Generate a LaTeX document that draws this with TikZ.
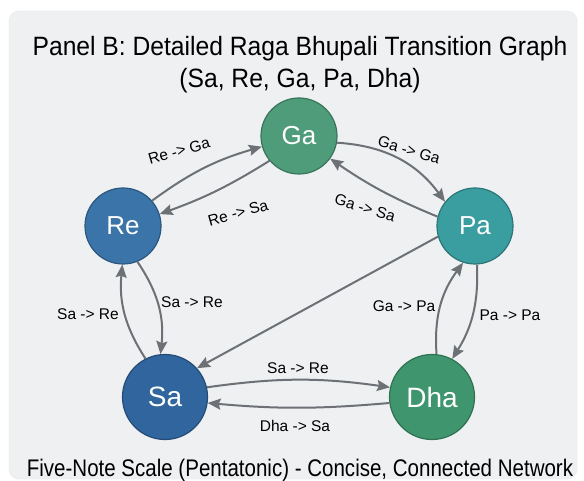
\documentclass[tikz,border=0pt]{standalone}
\usepackage{fontspec}
\setmainfont{Liberation Sans}
\newfontfamily\titlefont[FakeStretch=0.93]{Liberation Sans}
\newfontfamily\captionfont[FakeStretch=0.855]{Liberation Sans}
\newfontfamily\labelfont{Liberation Sans}
\usetikzlibrary{arrows.meta}

\definecolor{panelbg}{HTML}{EEF0F2}
\definecolor{panelrim}{HTML}{E4E7EA}
\definecolor{edgegray}{HTML}{6D7175}
\definecolor{reblue}{HTML}{3A74A8}
\definecolor{sablue}{HTML}{30659E}
\definecolor{gagreen}{HTML}{4E9C7A}
\definecolor{pateal}{HTML}{3A9DA0}
\definecolor{dhagreen}{HTML}{3F966E}

\tikzset{
  note/.style={circle, draw=#1!75!black, fill=#1, line width=1.2pt,
    text=white, inner sep=0pt, font=\fontsize{26}{30}\selectfont},
  smallnote/.style={note=#1, minimum size=76pt},
  bignote/.style={note=#1, minimum size=85pt, font=\fontsize{28}{32}\selectfont},
  trans/.style={draw=edgegray, line width=2pt,
    -{Stealth[length=13pt,width=11pt,inset=2pt]}},
  edgelabel/.style={font=\labelfont\fontsize{15.5}{18}\selectfont, text=black, inner sep=1pt},
}

\begin{document}
\begin{tikzpicture}[x=1pt, y=-1pt]
  \useasboundingbox (0,0) rectangle (584,481);
  \fill[white] (0,0) rectangle (584,481);
  \path[fill=panelbg, draw=panelrim, rounded corners=10pt] (9,11) rectangle (577,479);

  % heading (anchored on the baseline of its second line)
  \node[font=\titlefont\fontsize{26.5}{32}\selectfont, align=center, anchor=base]
    (heading) at (300,87.5) {Panel B: Detailed Raga Bhupali Transition Graph\\(Sa, Re, Ga, Pa, Dha)};

  % the five notes
  \node[smallnote=gagreen] (ga) at (299,136) {Ga};
  \node[smallnote=reblue]  (re) at (123,226) {Re};
  \node[smallnote=pateal]  (pa) at (475,226) {Pa};
  \node[bignote=sablue]    (sa) at (165,397) {Sa};
  \node[bignote=dhagreen]  (dha) at (432,397) {Dha};

  % transitions
  \draw[trans] (re.41)   to[bend left=10] (ga.196);
  \draw[trans] (ga.220)  to[bend left=6]  (re.18);
  \draw[trans] (ga.350)  to[bend left=25] (pa.141);
  \draw[trans] (pa.166)  to[bend left=6]  (ga.324);
  \draw[trans] (pa.196)  --               (sa.42);
  \draw[trans] (sa.117)  to[bend left=19] (re.269);
  \draw[trans] (re.292)  to[bend left=20] (sa.96);
  \draw[trans] (sa.13)   to[bend left=8]  (dha.167);
  \draw[trans] (dha.188) to[bend left=5]  (sa.352);
  \draw[trans] (dha.84)  to[bend left=20] (pa.252);
  \draw[trans] (pa.273)  to[bend left=17] (dha.62);

  % transition labels
  \node[edgelabel, rotate=16]  (l1) at (179,151) {Re -> Ga};
  \node[edgelabel, rotate=16]  (l2) at (238,213) {Re -> Sa};
  \node[edgelabel, rotate=-17] (l3) at (409,150) {Ga -> Ga};
  \node[edgelabel, rotate=-17] (l4) at (365,208) {Ga -> Sa};
  \node[edgelabel] (l5) at (88,314)  {Sa -> Re};
  \node[edgelabel] (l6) at (192,302) {Sa -> Re};
  \node[edgelabel] (l7) at (298,368) {Sa -> Re};
  \node[edgelabel] (l8) at (295,426) {Dha -> Sa};
  \node[edgelabel] (l9) at (404,306) {Ga -> Pa};
  \node[edgelabel] (l10) at (510,315) {Pa -> Pa};

  % footer
  \node[font=\captionfont\fontsize{24}{28}\selectfont, anchor=base]
    (footer) at (300,476) {Five-Note Scale (Pentatonic) - Concise, Connected Network};
\end{tikzpicture}
\end{document}
